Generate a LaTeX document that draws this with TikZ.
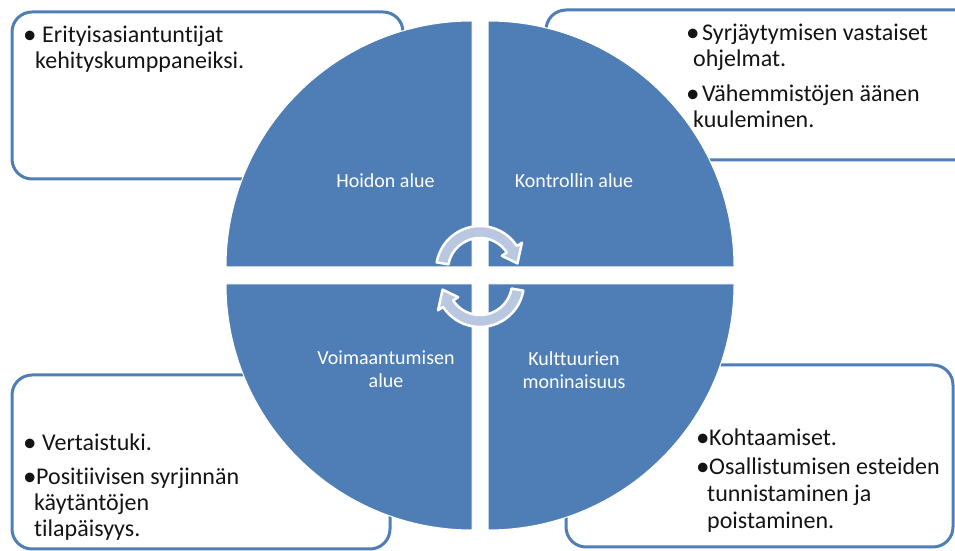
\documentclass[tikz,border=0pt]{standalone}
\usepackage{fontspec}
\setmainfont{Carlito}[Ligatures=NoCommon]
\usetikzlibrary{positioning}
\definecolor{quadblue}{RGB}{79,126,183}
\definecolor{arrowfill}{RGB}{185,199,224}
\definecolor{textdark}{RGB}{20,20,20}
\newcommand{\blt}[1]{\makebox[#1][l]{\raisebox{-0.8pt}{\fontsize{27}{27}\selectfont\textbullet}}}

\begin{document}
\begin{tikzpicture}[x=1pt,y=1pt,
    boxline/.style={draw=quadblue,line width=3pt,rounded corners=20pt},
    quad/.style={fill=quadblue,draw=white,line width=1pt},
    cyclearrow/.style={fill=arrowfill,draw=white,line width=2.5pt,line join=round},
    itemtext/.style={anchor=north west,align=left,inner sep=0pt,text=textdark,font=\fontsize{24}{26}\selectfont},
    quadlabel/.style={align=center,inner sep=0pt,text=white,font=\fontsize{20}{23}\selectfont}]
    \useasboundingbox (0,0) rectangle (955,551);
    \clip (0,0) rectangle (955,551);

    % text boxes behind the circle
    \draw[boxline] (12,539) rectangle (403,372);
    \draw[boxline] (546,541) rectangle (990,391);
    \draw[boxline] (12,176) rectangle (390,2);
    \draw[boxline] (566,186) rectangle (953,4);

    % four quadrants
    \filldraw[quad] (472,284) -- (226,284) arc[start angle=180,end angle=90,radius=246] -- cycle;
    \filldraw[quad] (488,284) -- (488,530) arc[start angle=90,end angle=0,radius=246] -- cycle;
    \filldraw[quad] (472,267) -- (226,267) arc[start angle=180,end angle=270,radius=246] -- cycle;
    \filldraw[quad] (488,267) -- (734,267) arc[start angle=0,end angle=-90,radius=246] -- cycle;

    % quadrant labels
    \node[quadlabel,anchor=base] (hoito) at (385.5,363) {Hoidon alue};
    \node[quadlabel,anchor=base] (kontrolli) at (574,363) {Kontrollin alue};
    \node[quadlabel,anchor=north] (voima) at (386,200) {Voimaantumisen\\alue};
    \node[quadlabel,anchor=north] (kulttuuri) at (574,200) {Kulttuurien\\moninaisuus};

    % cycle arrows
    \begin{scope}[shift={(480,281)}]
        \filldraw[cyclearrow] (170:44) arc[start angle=170,end angle=33,radius=44] -- (33:50) -- (10:38) -- (33:26) -- (33:32) arc[start angle=33,end angle=170,radius=32] -- cycle;
    \end{scope}
    \begin{scope}[shift={(480,268)}]
        \filldraw[cyclearrow] (350:44) arc[start angle=350,end angle=213,radius=44] -- (213:50) -- (190:38) -- (213:26) -- (213:32) arc[start angle=213,end angle=350,radius=32] -- cycle;
    \end{scope}

    % box texts
    \node[itemtext] (erityis) at (23,525) {\blt{19pt}Erityisasiantuntijat\\\hspace*{12pt}kehityskumppaneiksi.};
    \node[itemtext] (syrja) at (686,527) {\blt{16pt}Syrjäytymisen vastaiset\\\hspace*{7pt}ohjelmat.\\[9pt]\blt{16pt}Vähemmistöjen äänen\\\hspace*{7pt}kuuleminen.};
    \node[itemtext] (vertais) at (23,117) {\blt{19pt}Vertaistuki.\\[8pt]\blt{13pt}Positiivisen syrjinnän\\\hspace*{11pt}käytäntöjen\\\hspace*{11pt}tilapäisyys.};
    \node[itemtext,font=\fontsize{24}{27}\selectfont] (kohtaa) at (696,122) {\blt{13pt}Kohtaamiset.\\[2pt]\blt{13pt}Osallistumisen esteiden\\\hspace*{11pt}tunnistaminen ja\\\hspace*{11pt}poistaminen.};
\end{tikzpicture}
\end{document}
